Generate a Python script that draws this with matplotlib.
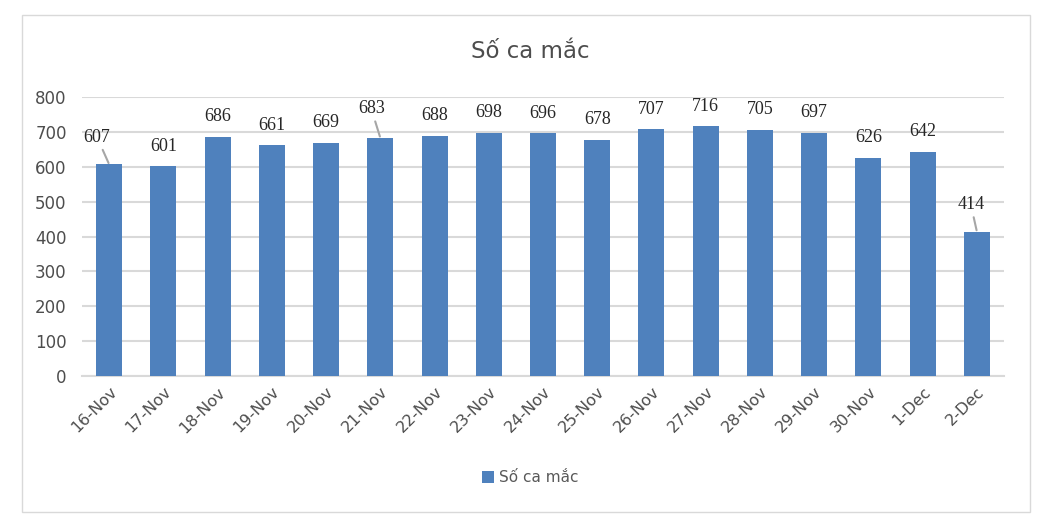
import matplotlib.pyplot as plt
from matplotlib.patches import Rectangle
import numpy as np

dates = ['16-Nov', '17-Nov', '18-Nov', '19-Nov', '20-Nov', '21-Nov', '22-Nov', '23-Nov', '24-Nov',
         '25-Nov', '26-Nov', '27-Nov', '28-Nov', '29-Nov', '30-Nov', '1-Dec', '2-Dec']
cases = [607, 601, 686, 661, 669, 683, 688, 698, 696, 678, 707, 716, 705, 697, 626, 642, 414]
# labels that Excel moved off the bar and tied with a leader line (dx, dy in px)
leader = {0: (-12, 27), 5: (-9, 29), 16: (-6, 27)}

fig = plt.figure(figsize=(10.6, 5.26), dpi=100)
fig.patches.append(Rectangle((22 / 1060, 1 - 512 / 526), 1008 / 1060, 497 / 526,
                             transform=fig.transFigure, fill=False, edgecolor='#D9D9D9', lw=1))
ax = fig.add_axes([82 / 1060, 1 - 376 / 526, 922 / 1060, 279 / 526])

x = np.arange(len(dates))
ax.bar(x, cases, width=0.48, color='#4F81BD', label='Số ca mắc', zorder=3)
ax.set_xlim(-0.5, len(dates) - 0.5)
ax.set_ylim(0, 800)
ax.set_yticks(range(0, 801, 100))
ax.yaxis.grid(True, color='#D9D9D9', lw=1.5, zorder=0)
for s in ['top', 'right', 'left']:
    ax.spines[s].set_visible(False)
ax.spines['bottom'].set_color('#D9D9D9')
ax.spines['bottom'].set_linewidth(1.5)
ax.tick_params(length=0, colors='#4D4D4D', labelsize=12)
ax.tick_params(axis='y', pad=11)
ax.tick_params(axis='x', pad=6)
ax.set_xticks(x)
ax.set_xticklabels(dates, rotation=45, ha='right', rotation_mode='anchor', fontsize=11.5)

for i, v in enumerate(cases):
    if i in leader:
        dx, dy = leader[i]
        ax.annotate(str(v), (i, v), xytext=(dx * 0.72, dy * 0.72), textcoords='offset points',
                    ha='center', va='center', fontsize=13, family='Liberation Serif', color='#262626',
                    arrowprops=dict(arrowstyle='-', color='#A6A6A6', lw=1.5, shrinkA=1, shrinkB=1))
    else:
        ax.annotate(str(v), (i, v), xytext=(0, 14.5), textcoords='offset points',
                    ha='center', va='center', fontsize=13, family='Liberation Serif', color='#262626')

fig.text(0.5, 1 - 52 / 526, 'Số ca mắc', ha='center', va='center', fontsize=16.5, color='#4D4D4D')
fig.legend(loc='center', bbox_to_anchor=(0.5, 1 - 478 / 526), frameon=False, fontsize=11,
           handlelength=0.8, handleheight=0.8, handletextpad=0.3, labelcolor='#595959')

fig.savefig('out.png', dpi=100)
